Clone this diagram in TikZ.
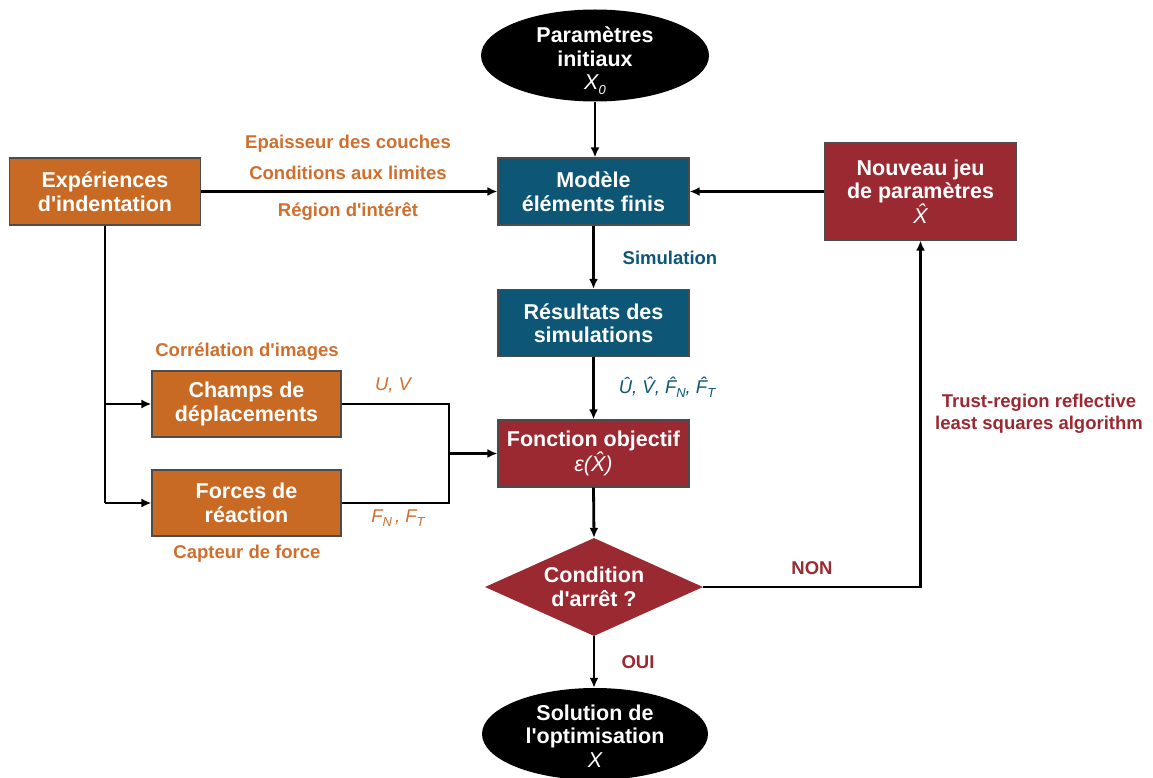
\documentclass[tikz,border=0pt]{standalone}
\usepackage{fontspec}
\setmainfont{Liberation Sans}
\usetikzlibrary{shapes.geometric,arrows.meta}
\definecolor{cor}{HTML}{C96A24}
\definecolor{cteal}{HTML}{0D5675}
\definecolor{cred}{HTML}{9B2931}
\definecolor{lor}{HTML}{CF6E2D}
\newcommand\mysub[1]{\raisebox{-0.45ex}{\fontsize{13}{13}\selectfont #1}}
\newcommand\apo{\textquotesingle}
\begin{document}
\begin{tikzpicture}[x=1pt,y=-1pt,
  box/.style={draw=black!70, line width=1.2pt, minimum width=191pt, minimum height=67pt,
    align=center, text=white, font=\fontsize{21.5}{23.5}\selectfont\bfseries, inner sep=2pt},
  oval/.style={ellipse, fill=black, minimum width=228pt, minimum height=92pt, inner sep=0pt},
  ovtxt/.style={align=center, text=white, font=\fontsize{21.5}{23.5}\selectfont\bfseries, inner sep=0pt},
  lab/.style={align=center, font=\fontsize{18.5}{21.5}\selectfont\bfseries, inner sep=0pt},
  mlab/.style={font=\fontsize{18.5}{21.5}\selectfont\itshape, inner sep=0pt},
  arr/.style={line width=2.8pt, -{Latex[length=10pt,width=9pt]}},
  ln/.style={line width=2.8pt}
]
\useasboundingbox (0,0) rectangle (1153,778);

% nodes
\node[oval] (init) at (595,55.5) {};
\node[ovtxt] (initT) at (595,61) {Paramètres\\initiaux\\{\mdseries\itshape X\mysub{0}}};

\node[box, fill=cteal] (model) at (593.5,191.5) {Modèle\\éléments finis};
\node[box, fill=cor] (exp) at (105,191.5) {Expériences\\d\apo indentation};
\node[box, fill=cred, minimum height=97pt] (nouv) at (920.5,191.5) {Nouveau jeu\\de paramètres\\{\mdseries\itshape \^{X}}};
\node[box, fill=cteal] (res) at (593.5,323) {Résultats des\\simulations};
\node[box, fill=cred] (fobj) at (593.5,453.5) {Fonction objectif\\{\mdseries\itshape ε(\^{X})}};
\node[box, fill=cor, minimum width=189pt, minimum height=66pt] (champs) at (246.5,404) {Champs de\\déplacements};
\node[box, fill=cor, minimum width=189pt, minimum height=66pt] (forces) at (246.5,503) {Forces de\\réaction};
\node[diamond, fill=cred, minimum width=218pt, minimum height=98pt, aspect=2.22, inner sep=0pt,
  align=center, text=white, font=\fontsize{21.5}{23.5}\selectfont\bfseries] (cond) at (594,587) {Condition\\d\apo arrêt ?};
\node[oval, minimum width=226pt] (sol) at (595,734) {};
\node[ovtxt] (solT) at (595,736) {Solution de\\l\apo optimisation\\{\mdseries\itshape X}};

% labels
\node[lab, text=lor] (l1) at (348,144) {Epaisseur des couches};
\node[lab, text=lor] (l2) at (348,173) {Conditions aux limites};
\node[lab, text=lor] (l3) at (348,212) {Région d\apo intérêt};
\node[lab, text=cteal] (lsim) at (670,258) {Simulation};
\node[mlab, text=cteal] (lhat) at (667,387) {Û, \^{V}, \^{F}\mysub{N}, \^{F}\mysub{T}};
\node[lab, text=lor] (lcorr) at (247,352) {Corrélation d\apo images};
\node[lab, text=lor] (lcapt) at (247,554) {Capteur de force};
\node[mlab, text=lor] (luv) at (393,385) {U, V};
\node[mlab, text=lor] (lf) at (398,518) {F\mysub{N}\,, F\mysub{T}};
\node[lab, text=cred] (lnon) at (812,568) {NON};
\node[lab, text=cred] (loui) at (638,662) {OUI};
\node[lab, text=cred] (ltr) at (1039,414) {Trust-region reflective\\least squares algorithm};

% connectors
\draw[arr] (init.south) -- (init.south |- model.north);
\draw[arr] (exp.east) -- (model.west);
\draw[arr] (nouv.west) -- (model.east);
\draw[arr] (model.south) -- (res.north);
\draw[arr] (res.south) -- (fobj.north);
\draw[arr] (fobj.south) -- (cond.north);
\draw[arr] (cond.south) -- (cond.south |- sol.north);
\draw[arr] (cond.east) -| (nouv.south);
\draw[ln] (exp.south) -- (exp.south |- forces.west);
\draw[arr] (exp.south |- champs.west) -- (champs.west);
\draw[arr] (exp.south |- forces.west) -- (forces.west);
\coordinate (merge) at (449,453.5);
\draw[ln] (champs.east) -| (merge);
\draw[ln] (forces.east) -| (merge);
\draw[arr] (merge) -- (fobj.west);
\end{tikzpicture}
\end{document}
